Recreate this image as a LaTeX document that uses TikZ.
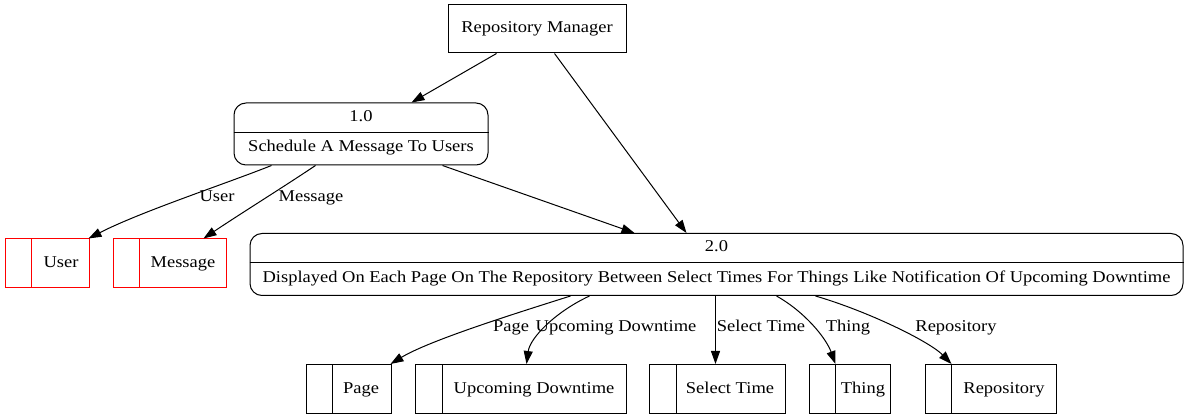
\documentclass[tikz,border=0pt]{standalone}
\usepackage{fontspec}
\setmainfont{Liberation Serif}[FakeStretch=1.12]
\usetikzlibrary{arrows.meta,calc}
\begin{document}
\begin{tikzpicture}[x=1pt,y=-1pt,
  every node/.style={font=\fontsize{16.5}{18}\selectfont, inner sep=0pt, text height=11pt, text depth=3pt},
  ent/.style={draw, line width=1pt, minimum width=#1, minimum height=48pt},
  proc/.style={draw, line width=1pt, rounded corners=12pt, minimum width=#1, minimum height=62pt},
  store/.style={draw, line width=1pt, minimum width=#1, minimum height=49pt},
  redstore/.style={store=#1, draw=red},
  flow/.style={line width=1pt, -{Triangle[length=13pt,width=9pt]}}
]
\useasboundingbox (0,0) rectangle (1188,419);

% external entity
\node[ent=178pt] (rm) at (537,29) {Repository Manager};

% process 1.0
\node[proc=254pt] (p1) at (361,134) {};
\draw[line width=1pt] ($(p1.west)+(0,-1)$) -- ($(p1.east)+(0,-1)$);
\node (p1n) at (361,118) {1.0};
\node (p1t) at (361,148) {Schedule A Message To Users};

% process 2.0
\node[proc=933pt] (p2) at (716.5,264.5) {};
\draw[line width=1pt] ($(p2.west)+(0,-1.5)$) -- ($(p2.east)+(0,-1.5)$);
\node (p2n) at (716.5,248) {2.0};
\node (p2t) at (716.5,279) {Displayed On Each Page On The Repository Between Select Times For Things Like Notification Of Upcoming Downtime};

% data stores (red)
\node[redstore=84pt] (su) at (47,263.5) {};
\draw[red, line width=1pt] ($(su.north west)+(27,0)$) -- ($(su.south west)+(27,0)$);
\node at (61,264) {User};
\node[redstore=113pt] (sm) at (169.5,263.5) {};
\draw[red, line width=1pt] ($(sm.north west)+(27,0)$) -- ($(sm.south west)+(27,0)$);
\node at (183,264) {Message};

% data stores (black)
\node[store=85pt] (sp) at (348.5,389) {};
\draw[line width=1pt] ($(sp.north west)+(27,0)$) -- ($(sp.south west)+(27,0)$);
\node at (361,389) {Page};
\node[store=211pt] (sd) at (520.5,389) {};
\draw[line width=1pt] ($(sd.north west)+(28,0)$) -- ($(sd.south west)+(28,0)$);
\node at (534,389) {Upcoming Downtime};
\node[store=136pt] (ss) at (717,389) {};
\draw[line width=1pt] ($(ss.north west)+(28,0)$) -- ($(ss.south west)+(28,0)$);
\node at (730,389) {Select Time};
\node[store=81pt] (sth) at (849.5,389) {};
\draw[line width=1pt] ($(sth.north west)+(27,0)$) -- ($(sth.south west)+(27,0)$);
\node at (863,389) {Thing};
\node[store=131pt] (sr) at (990.5,389) {};
\draw[line width=1pt] ($(sr.north west)+(27,0)$) -- ($(sr.south west)+(27,0)$);
\node at (1004,389) {Repository};

% flows
\draw[flow] ($(rm.south west)+(49,0)$) -- ($(p1.north west)+(178,0)$);
\draw[flow] ($(rm.south west)+(107,0)$) -- ($(p2.north west)+(437,0)$);
\draw[flow] ($(p1.south west)+(209,0)$) -- ($(p2.north west)+(385,0)$);

\draw[flow] ($(p1.south west)+(38,0)$) .. controls (225,184) and (140,212) .. ($(su.north east)+(-1,0)$);
\node at (217,198) {User};
\draw[flow] ($(p1.south west)+(82,0)$) .. controls (285,186) and (240,214) .. ($(sm.north west)+(91,0)$);
\node at (311,198) {Message};

\draw[flow] ($(p2.south west)+(321,0)$) .. controls (520,312) and (430,340) .. ($(sp.north east)+(-1,0)$);
\node at (511,328) {Page};
\draw[flow] ($(p2.south west)+(340,0)$) .. controls (555,312) and (530,338) .. ($(sd.north west)+(112,0)$);
\node at (616,328) {Upcoming Downtime};
\draw[flow] ($(p2.south west)+(466,0)$) -- ($(ss.north west)+(67,0)$);
\node at (761,328) {Select Time};
\draw[flow] ($(p2.south west)+(527,0)$) .. controls (805,312) and (826,338) .. ($(sth.north west)+(27,0)$);
\node at (848,328) {Thing};
\draw[flow] ($(p2.south west)+(566,0)$) .. controls (870,312) and (930,342) .. ($(sr.north west)+(27,0)$);
\node at (956,328) {Repository};
\end{tikzpicture}
\end{document}
